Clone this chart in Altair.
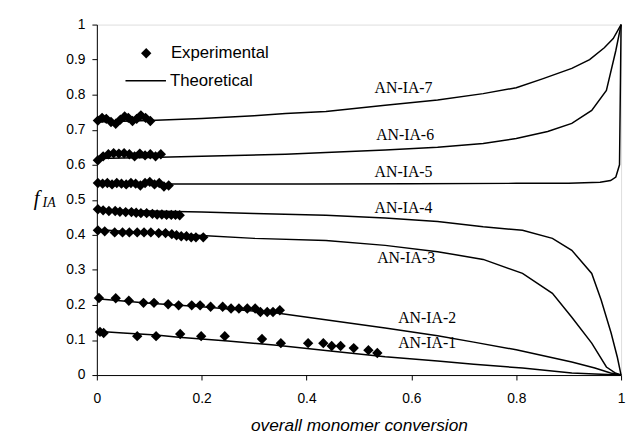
import altair as alt
import pandas as pd

# ---------------- theoretical curves (overall conversion, f_IA) ----------------
c1_x = [0.0, 0.05, 0.113, 0.156, 0.2, 0.25, 0.343, 0.45, 0.55, 0.65, 0.719, 0.812, 0.906, 0.95, 1.0]
c1_y = [0.125, 0.12, 0.114, 0.108, 0.103, 0.097, 0.085, 0.068, 0.052, 0.04, 0.031, 0.02, 0.006, 0.003, 0.0]
c2_x = [0.0, 0.1, 0.2, 0.343, 0.45, 0.55, 0.65, 0.719, 0.8, 0.906, 0.95, 0.98, 1.0]
c2_y = [0.218, 0.205, 0.195, 0.177, 0.155, 0.134, 0.112, 0.094, 0.072, 0.037, 0.02, 0.006, 0.0]
c3_x = [0.0, 0.1, 0.2, 0.3, 0.437, 0.55, 0.65, 0.737, 0.812, 0.869, 0.906, 0.944, 0.972, 0.99, 1.0]
c3_y = [0.415, 0.405, 0.398, 0.39, 0.384, 0.37, 0.352, 0.33, 0.29, 0.233, 0.165, 0.091, 0.023, 0.005, 0.0]
c4_x = [0.0, 0.1, 0.2, 0.3, 0.437, 0.55, 0.65, 0.737, 0.812, 0.869, 0.906, 0.944, 0.962, 0.981, 0.993, 1.0]
c4_y = [0.472, 0.468, 0.465, 0.461, 0.456, 0.448, 0.438, 0.423, 0.413, 0.39, 0.356, 0.29, 0.214, 0.12, 0.05, 0.0]
c5_x = [0.0, 0.2, 0.4, 0.6, 0.8, 0.9, 0.96, 0.98, 0.99, 0.997, 1.0]
c5_y = [0.545, 0.545, 0.545, 0.546, 0.547, 0.547, 0.55, 0.555, 0.565, 0.6, 1.0]
c6_x = [0.0, 0.1, 0.2, 0.36, 0.437, 0.55, 0.65, 0.737, 0.8, 0.86, 0.906, 0.944, 0.972, 0.99, 1.0]
c6_y = [0.618, 0.621, 0.624, 0.63, 0.635, 0.642, 0.65, 0.661, 0.675, 0.695, 0.718, 0.755, 0.812, 0.926, 1.0]
c7_x = [0.0, 0.1, 0.2, 0.3, 0.36, 0.437, 0.55, 0.65, 0.737, 0.8, 0.85, 0.906, 0.94, 0.968, 0.985, 1.0]
c7_y = [0.722, 0.726, 0.732, 0.74, 0.746, 0.752, 0.77, 0.785, 0.803, 0.82, 0.845, 0.875, 0.9, 0.934, 0.96, 1.0]

# ---------------- experimental points ----------------
e1_x = [0.006, 0.013, 0.077, 0.113, 0.159, 0.199, 0.244, 0.315, 0.351, 0.403, 0.432, 0.448, 0.465, 0.49, 0.518, 0.535]
e1_y = [0.123, 0.12, 0.111, 0.111, 0.117, 0.111, 0.111, 0.103, 0.091, 0.091, 0.091, 0.083, 0.083, 0.077, 0.071, 0.063]
e2_x = [0.004, 0.036, 0.061, 0.089, 0.109, 0.136, 0.156, 0.181, 0.197, 0.217, 0.24, 0.256, 0.271, 0.287, 0.302, 0.312, 0.325, 0.336, 0.349]
e2_y = [0.22, 0.219, 0.212, 0.206, 0.206, 0.202, 0.199, 0.199, 0.199, 0.195, 0.195, 0.19, 0.19, 0.19, 0.19, 0.18, 0.18, 0.18, 0.185]
e3_x = [0.002, 0.015, 0.034, 0.049, 0.062, 0.077, 0.09, 0.103, 0.118, 0.131, 0.143, 0.152, 0.161, 0.171, 0.18, 0.189, 0.203]
e3_y = [0.413, 0.41, 0.407, 0.407, 0.407, 0.407, 0.407, 0.407, 0.405, 0.405, 0.402, 0.399, 0.396, 0.396, 0.393, 0.393, 0.393]
e4_x = [0.002, 0.012, 0.023, 0.035, 0.044, 0.055, 0.066, 0.075, 0.084, 0.095, 0.106, 0.115, 0.124, 0.133, 0.142, 0.15, 0.158]
e4_y = [0.473, 0.47, 0.468, 0.468, 0.466, 0.465, 0.465, 0.463, 0.462, 0.462, 0.46, 0.458, 0.458, 0.457, 0.457, 0.457, 0.456]
e5_x = [0.002, 0.011, 0.02, 0.029, 0.038, 0.047, 0.056, 0.065, 0.074, 0.083, 0.092, 0.101, 0.11, 0.119, 0.128, 0.137]
e5_y = [0.548, 0.546, 0.548, 0.544, 0.548, 0.546, 0.544, 0.548, 0.546, 0.541, 0.548, 0.551, 0.544, 0.548, 0.538, 0.541]
e6_x = [0.002, 0.012, 0.022, 0.032, 0.042, 0.052, 0.062, 0.072, 0.082, 0.092, 0.102, 0.112, 0.122]
e6_y = [0.613, 0.624, 0.63, 0.633, 0.632, 0.633, 0.63, 0.624, 0.632, 0.627, 0.63, 0.624, 0.63]
e7_x = [0.002, 0.01, 0.018, 0.027, 0.036, 0.045, 0.053, 0.06, 0.068, 0.076, 0.084, 0.093, 0.102]
e7_y = [0.726, 0.734, 0.731, 0.722, 0.717, 0.729, 0.738, 0.734, 0.725, 0.731, 0.741, 0.734, 0.725]

# ---------------- curve labels ----------------
label_text = ["AN-IA-1", "AN-IA-2", "AN-IA-3", "AN-IA-4", "AN-IA-5", "AN-IA-6", "AN-IA-7"]
label_x = [0.63, 0.63, 0.59, 0.585, 0.585, 0.588, 0.585]
label_y = [0.091, 0.162, 0.333, 0.476, 0.578, 0.684, 0.82]

x_ticks = [0, 0.2, 0.4, 0.6, 0.8, 1]
y_ticks = [0, 0.1, 0.2, 0.3, 0.4, 0.5, 0.6, 0.7, 0.8, 0.9, 1]

curves = [(c1_x, c1_y), (c2_x, c2_y), (c3_x, c3_y), (c4_x, c4_y), (c5_x, c5_y), (c6_x, c6_y), (c7_x, c7_y)]
exps = [(e1_x, e1_y), (e2_x, e2_y), (e3_x, e3_y), (e4_x, e4_y), (e5_x, e5_y), (e6_x, e6_y), (e7_x, e7_y)]

rows = []
for i, (xs, ys) in enumerate(curves):
    for j, (a, b) in enumerate(zip(xs, ys)):
        rows.append({"series": label_text[i], "x": a, "y": b, "o": j})
theo = pd.DataFrame(rows)

rows = []
for i, (xs, ys) in enumerate(exps):
    for a, b in zip(xs, ys):
        rows.append({"series": label_text[i], "x": a, "y": b})
expdf = pd.DataFrame(rows)

labdf = pd.DataFrame({"t": label_text, "x": label_x, "y": label_y})

SANS = "Liberation Sans, Arial, sans-serif"
SERIF = "Liberation Serif, Times New Roman, serif"

xscale = alt.Scale(domain=[0, 1], nice=False, zero=False)
yscale = alt.Scale(domain=[0, 1], nice=False, zero=False)

xaxis = alt.Axis(values=x_ticks, format="~g", grid=False, title="overall monomer conversion",
                 titleFont=SANS, titleFontStyle="italic", titleFontWeight="normal", titleFontSize=17.5,
                 titleColor="black", titlePadding=11,
                 labelFont=SANS, labelFontSize=14, labelColor="black", labelPadding=12,
                 tickSize=5, tickColor="black", domainColor="black", labelFlush=False, labelOverlap=False)
yaxis = alt.Axis(values=y_ticks, format="~g", grid=False, title=None,
                 labelFont=SANS, labelFontSize=14, labelColor="black", labelPadding=7,
                 tickSize=5, tickColor="black", domainColor="black", labelFlush=False,
                 labelOverlap=False, labelSeparation=0)

X = alt.X("x:Q", scale=xscale, axis=xaxis)
Y = alt.Y("y:Q", scale=yscale, axis=yaxis)

lines = alt.Chart(theo).mark_line(color="black", strokeWidth=1.5).encode(
    x=X, y=Y, detail="series:N", order="o:Q",
)

points = alt.Chart(expdf).mark_point(shape="diamond", filled=True, color="black", size=110, opacity=1).encode(
    x=X, y=Y,
)

labels = alt.Chart(labdf).mark_text(font=SERIF, fontSize=16, color="black", align="center", baseline="middle").encode(
    x=X, y=Y, text="t:N",
)

# legend (inside the plot, top-left)
one = pd.DataFrame({"a": [0]})
leg_pt = alt.Chart(one).mark_point(shape="diamond", filled=True, color="black", size=110, opacity=1).encode(
    x=alt.value(50), y=alt.value(29))
leg_ln = alt.Chart(one).mark_rule(color="black", strokeWidth=1.5).encode(
    x=alt.value(29), x2=alt.value(70), y=alt.value(57))
leg_t1 = alt.Chart(one).mark_text(text="Experimental", font=SANS, fontSize=17, align="left",
                                  baseline="middle", color="black").encode(x=alt.value(75), y=alt.value(29))
leg_t2 = alt.Chart(one).mark_text(text="Theoretical", font=SANS, fontSize=17, align="left",
                                  baseline="middle", color="black").encode(x=alt.value(74), y=alt.value(57))

# y-axis title f_IA
yt_f = alt.Chart(one).mark_text(text="f", font=SERIF, fontSize=21, fontStyle="italic",
                                align="center", baseline="alphabetic", color="black").encode(
    x=alt.value(-61), y=alt.value(183))
yt_s = alt.Chart(one).mark_text(text="IA", font=SERIF, fontSize=14, fontStyle="italic",
                                align="left", baseline="alphabetic", color="black").encode(
    x=alt.value(-55), y=alt.value(185))

chart = alt.layer(lines, points, labels, leg_pt, leg_ln, leg_t1, leg_t2, yt_f, yt_s).properties(
    width=531, height=355,
    autosize=alt.AutoSizeParams(type="none"),
    padding={"left": 90, "top": 14, "right": 6, "bottom": 64},
).configure_view(stroke="#444", strokeWidth=1).configure(background="white")

chart.save("out.html", embed_options={"renderer": "svg", "actions": False})
